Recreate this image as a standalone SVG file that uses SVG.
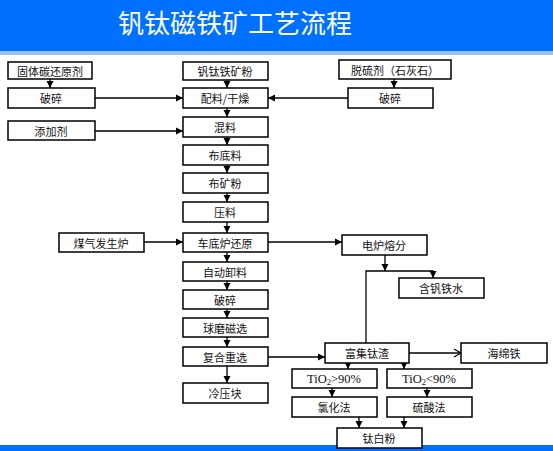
<svg xmlns="http://www.w3.org/2000/svg" width="553" height="451" viewBox="0 0 553 451">
<style>
.b{fill:#fff;stroke:#000;stroke-width:1.5}
.t{font-family:"Noto Sans CJK SC","Noto Sans CJK JP",sans-serif;font-size:11px;fill:#111;text-anchor:middle;dominant-baseline:central}
.s{font-family:"Liberation Serif",serif;font-size:12.5px;fill:#111;text-anchor:middle;dominant-baseline:central}
.c{fill:none;stroke:#000;stroke-width:1.3}
</style>
<defs>
<marker id="a" markerWidth="8" markerHeight="8" refX="7" refY="4" orient="auto" markerUnits="userSpaceOnUse"><path d="M0,0.5 L7,4 L0,7.5 Z" fill="#000"/></marker>
<marker id="o" markerWidth="10" markerHeight="10" refX="8" refY="5" orient="auto" markerUnits="userSpaceOnUse"><path d="M1,1 L8,5 L1,9" fill="none" stroke="#000" stroke-width="1.2"/></marker>
</defs>
<rect x="0" y="0" width="553" height="51" fill="#0070FF"/>
<rect x="0" y="51" width="553" height="4" fill="#99C2FF"/>
<rect x="0" y="445" width="553" height="6" fill="#0070FF"/>
<text x="235" y="21" font-family="'Noto Sans CJK SC',sans-serif" font-size="26" fill="#fff" text-anchor="middle" dominant-baseline="central">钒钛磁铁矿工艺流程</text>
<g id="connectors">
<path class="c" d="M50,79 V88" marker-end="url(#a)"/>
<path class="c" d="M95,98 H183" marker-end="url(#a)"/>
<path class="c" d="M95,131 H183" marker-end="url(#a)"/>
<path class="c" d="M227,80 V88" marker-end="url(#a)"/>
<path class="c" d="M394,79 V88" marker-end="url(#a)"/>
<path class="c" d="M348,98 H268" marker-end="url(#a)"/>
<path class="c" d="M227,108 V117" marker-end="url(#a)"/>
<path class="c" d="M227,137 V145" marker-end="url(#a)"/>
<path class="c" d="M227,165 V173" marker-end="url(#a)"/>
<path class="c" d="M227,193 V202" marker-end="url(#a)"/>
<path class="c" d="M227,222 V233" marker-end="url(#a)"/>
<path class="c" d="M144,242 H183" marker-end="url(#a)"/>
<path class="c" d="M268,242 H342" marker-end="url(#a)"/>
<path class="c" d="M227,252 V262" marker-end="url(#a)"/>
<path class="c" d="M227,281 V290" marker-end="url(#a)"/>
<path class="c" d="M227,309 V318" marker-end="url(#a)"/>
<path class="c" d="M227,337 V347" marker-end="url(#a)"/>
<path class="c" d="M227,366 V383" marker-end="url(#a)"/>
<path class="c" d="M385,255 V271" marker-end="url(#a)"/>
<path class="c" d="M366,343 V271 H433 V278" marker-end="url(#a)"/>
<path class="c" d="M268,357 H325" marker-end="url(#a)"/>
<path class="c" d="M409,353 H461" marker-end="url(#o)"/>
<path class="c" d="M348,363 V369" marker-end="url(#a)"/>
<path class="c" d="M404,363 V369" marker-end="url(#a)"/>
<path class="c" d="M332,388 V397" marker-end="url(#a)"/>
<path class="c" d="M427,388 V397" marker-end="url(#a)"/>
<path class="c" d="M359,417 V428" marker-end="url(#a)"/>
<path class="c" d="M404,417 V428" marker-end="url(#a)"/>
</g>
<g id="n1"><rect class="b" x="8" y="62" width="84" height="17"/><text class="t" x="50" y="70.5">固体碳还原剂</text></g>
<g id="n2"><rect class="b" x="8" y="88" width="87" height="20"/><text class="t" x="51" y="98">破碎</text></g>
<g id="n3"><rect class="b" x="8" y="121" width="87" height="19"/><text class="t" x="51" y="130.5">添加剂</text></g>
<g id="n4"><rect class="b" x="183" y="62" width="85" height="18"/><text class="t" x="225" y="71">钒钛铁矿粉</text></g>
<g id="n5"><rect class="b" x="339" y="60" width="112" height="19"/><text class="t" x="395" y="69.5">脱硫剂（石灰石）</text></g>
<g id="n6"><rect class="b" x="348" y="88" width="85" height="20"/><text class="t" x="390" y="98">破碎</text></g>
<g id="n7"><rect class="b" x="183" y="88" width="85" height="20"/><text class="t" x="225" y="98">配料/干燥</text></g>
<g id="n8"><rect class="b" x="183" y="117" width="85" height="20"/><text class="t" x="225" y="127">混料</text></g>
<g id="n9"><rect class="b" x="183" y="145" width="85" height="20"/><text class="t" x="225" y="155">布底料</text></g>
<g id="n10"><rect class="b" x="183" y="173" width="85" height="20"/><text class="t" x="225" y="183">布矿粉</text></g>
<g id="n11"><rect class="b" x="183" y="202" width="85" height="20"/><text class="t" x="225" y="212">压料</text></g>
<g id="n12"><rect class="b" x="59" y="233" width="85" height="19"/><text class="t" x="101" y="242.5">煤气发生炉</text></g>
<g id="n13"><rect class="b" x="183" y="233" width="85" height="19"/><text class="t" x="225" y="242.5">车底炉还原</text></g>
<g id="n14"><rect class="b" x="342" y="235" width="85" height="20"/><text class="t" x="384" y="245">电炉熔分</text></g>
<g id="n15"><rect class="b" x="399" y="278" width="85" height="20"/><text class="t" x="441" y="288">含钒铁水</text></g>
<g id="n16"><rect class="b" x="183" y="262" width="85" height="19"/><text class="t" x="225" y="271.5">自动卸料</text></g>
<g id="n17"><rect class="b" x="183" y="290" width="85" height="19"/><text class="t" x="225" y="299.5">破碎</text></g>
<g id="n18"><rect class="b" x="183" y="318" width="85" height="19"/><text class="t" x="225" y="327.5">球磨磁选</text></g>
<g id="n19"><rect class="b" x="183" y="347" width="85" height="19"/><text class="t" x="225" y="356.5">复合重选</text></g>
<g id="n20"><rect class="b" x="183" y="383" width="85" height="20"/><text class="t" x="225" y="393">冷压块</text></g>
<g id="n21"><rect class="b" x="325" y="343" width="84" height="20"/><text class="t" x="367" y="353">富集钛渣</text></g>
<g id="n22"><rect class="b" x="461" y="343" width="86" height="20"/><text class="t" x="504" y="353">海绵铁</text></g>
<g id="n23"><rect class="b" x="292" y="369" width="85" height="19"/><text class="s" x="334" y="378.5">TiO<tspan font-size="8.5" dy="3">2</tspan><tspan dy="-3">&gt;90%</tspan></text></g>
<g id="n24"><rect class="b" x="387" y="369" width="85" height="19"/><text class="s" x="429" y="378.5">TiO<tspan font-size="8.5" dy="3">2</tspan><tspan dy="-3">&lt;90%</tspan></text></g>
<g id="n25"><rect class="b" x="292" y="397" width="85" height="20"/><text class="t" x="334" y="407">氯化法</text></g>
<g id="n26"><rect class="b" x="387" y="397" width="85" height="20"/><text class="t" x="429" y="407">硫酸法</text></g>
<g id="n27"><rect class="b" x="337" y="428" width="85" height="20"/><text class="t" x="379" y="438">钛白粉</text></g>
</svg>
